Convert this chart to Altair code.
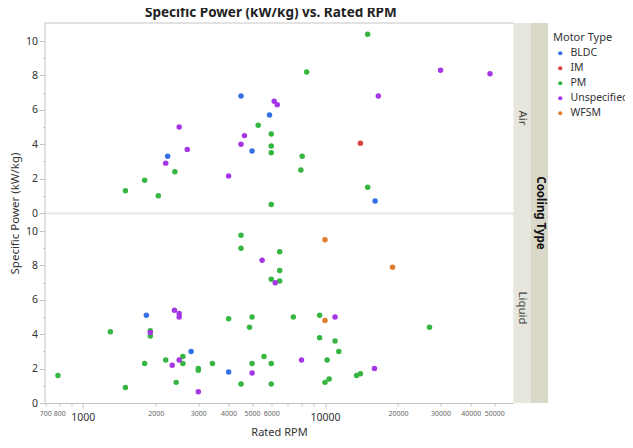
import altair as alt
import pandas as pd

# ---------------- data ----------------
type_order = ["BLDC", "IM", "PM", "Unspecified", "WFSM"]
type_colors = ["#3471e6", "#d94040", "#36b640", "#a436e6", "#e07d2c"]

air_rpm = [1500, 1800, 2050, 2400, 5300, 6000, 6000, 6000, 6000, 8050, 7950, 8400, 15000, 15000,
           2200, 2500, 2700, 4000, 4500, 4650, 6170, 6350, 30000, 48000, 16600,
           2240, 4500, 5000, 5900, 16100, 14000]
air_power = [1.3, 1.9, 1.0, 2.4, 5.1, 4.6, 3.9, 3.5, 0.5, 3.3, 2.5, 8.2, 10.4, 1.5,
             2.9, 5.0, 3.7, 2.15, 4.0, 4.5, 6.5, 6.3, 8.3, 8.1, 6.8,
             3.3, 6.8, 3.6, 5.7, 0.7, 4.05]
air_type = ["PM"] * 14 + ["Unspecified"] * 11 + ["BLDC"] * 5 + ["IM"]

liq_rpm = [790, 1300, 1500, 1800, 1900, 1900, 2200, 2430, 2590, 2590, 3000, 3000, 3430, 4000,
           4500, 4500, 4500, 4880, 5000, 5000, 5600, 6000, 6000, 6000, 6500, 6500, 6500, 7400,
           9500, 9500, 27000, 11000, 11400, 10200, 13500, 14000, 10400, 10000,
           1900, 2340, 2390, 2500, 2500, 2500, 3000, 5000, 5500, 6230, 8000, 11000, 16000,
           1830, 2800, 4000,
           10000, 19000, 10000]
liq_power = [1.6, 4.15, 0.9, 2.3, 4.2, 3.9, 2.5, 1.2, 2.7, 2.3, 2.0, 1.9, 2.3, 4.9,
             9.75, 9.0, 1.1, 4.4, 5.0, 2.3, 2.7, 7.2, 2.3, 1.1, 8.8, 7.7, 7.1, 5.0,
             5.1, 3.8, 4.4, 3.6, 3.0, 2.5, 1.6, 1.7, 1.4, 1.2,
             4.1, 2.2, 5.4, 5.2, 5.0, 2.5, 0.65, 1.75, 8.3, 7.0, 2.5, 5.0, 2.0,
             5.1, 3.0, 1.8,
             9.5, 7.9, 4.8]
liq_type = ["PM"] * 38 + ["Unspecified"] * 13 + ["BLDC"] * 3 + ["WFSM"] * 3

x_ticks = [700, 800, 900, 1000, 2000, 3000, 4000, 5000, 6000, 7000, 8000, 9000,
           10000, 20000, 30000, 40000, 50000]
x_labels = [700, 800, 1000, 2000, 3000, 4000, 5000, 6000, 10000, 20000, 30000, 40000, 50000]
y_ticks = [0, 1, 2, 3, 4, 5, 6, 7, 8, 9, 10]

# ---------------- styling ----------------
FONT = "Noto Sans"
W, H = 469, 190
S1, S2 = 17.5, 17
AXC = "#c4c4c4"
TXT = "#333333"

air = pd.DataFrame({"rpm": air_rpm, "power": air_power, "type": air_type})
liq = pd.DataFrame({"rpm": liq_rpm, "power": liq_power, "type": liq_type})

big_test = "datum.value == 1000 || datum.value == 10000"
label_list = "[" + ",".join(str(v) for v in x_labels) + "]"


def panel(df, label, bottom):
    if bottom:
        xaxis = alt.Axis(
            values=x_ticks, title="Rated RPM", grid=False,
            labelExpr=f"indexof({label_list}, datum.value) >= 0 ? '' + datum.value : ''",
            labelFontSize={"condition": {"test": big_test, "value": 10.5}, "value": 7},
            labelColor={"condition": {"test": big_test, "value": TXT}, "value": "#666666"},
            labelPadding={"condition": {"test": big_test, "value": 4}, "value": 3},
            tickSize={"condition": {"test": big_test, "value": 5}, "value": 3},
            domainColor=AXC, tickColor=AXC, labelFont=FONT, labelFlush=False,
            labelOverlap=False, titleFont=FONT, titleFontSize=11, titleFontWeight="normal",
            titleColor=TXT, titlePadding=4,
        )
    else:
        xaxis = alt.Axis(values=x_ticks, labels=False, ticks=False, title=None, grid=False,
                         domainColor="#e6e6e6", domainWidth=2)
    yaxis_kw = dict(
        values=y_ticks, grid=False,
        labelExpr="datum.value % 2 == 0 ? datum.label : ''",
        tickSize={"condition": {"test": "datum.value % 2 == 0", "value": 5}, "value": 2},
        domainColor=AXC, tickColor=AXC, labelFont=FONT, labelFontSize=10.5, labelColor=TXT,
        labelPadding=2,
    )
    if bottom:
        yaxis = alt.Axis(title=None, **yaxis_kw)
    else:
        yaxis = alt.Axis(title="Specific Power (kW/kg)", titleY=H, titleX=-24.5,
                         titleBaseline="bottom", titleFont=FONT, titleFontSize=11.5,
                         titleFontWeight="normal", titleColor=TXT, **yaxis_kw)

    pts = alt.Chart(df).mark_circle(size=30, opacity=1).encode(
        x=alt.X("rpm:Q", scale=alt.Scale(type="log", domain=[695, 60000], nice=False), axis=xaxis),
        y=alt.Y("power:Q", scale=alt.Scale(domain=[0, 11.05], nice=False, zero=False), axis=yaxis),
        color=alt.Color("type:N", scale=alt.Scale(domain=type_order, range=type_colors),
                        legend=alt.Legend(title="Motor Type", orient="none", legendX=W + S1 + S2 + 5,
                                          legendY=9, titleFont=FONT, titleFontSize=11,
                                          titleFontWeight="normal", titleColor=TXT, labelFont=FONT,
                                          labelFontSize=10.5, labelColor=TXT, symbolSize=18,
                                          symbolOffset=2, labelOffset=5, rowPadding=4,
                                          titlePadding=5, symbolStrokeWidth=0)),
    )
    lab = pd.DataFrame({"t": [label]})
    strip1 = alt.Chart(lab).mark_rect(color="#e6e6dc").encode(
        x=alt.value(W), x2=alt.value(W + S1), y=alt.value(0), y2=alt.value(H))
    strip2 = alt.Chart(lab).mark_rect(color="#d9d8c9").encode(
        x=alt.value(W + S1), x2=alt.value(W + S1 + S2), y=alt.value(0), y2=alt.value(H))
    txt = alt.Chart(lab).mark_text(angle=90, font=FONT, fontSize=11.5, color="#444444").encode(
        x=alt.value(W + S1 / 2), y=alt.value(H / 2), text="t:N")
    layers = [strip1, strip2, txt]
    if not bottom:
        border = alt.Chart(lab).mark_rule(color=AXC).encode(
            x=alt.value(0), x2=alt.value(W), y=alt.value(0))
        layers.append(border)
    else:
        ct = alt.Chart(pd.DataFrame({"t": ["Cooling Type"]})).mark_text(
            angle=90, font=FONT, fontSize=11.5, fontWeight="bold", color="#111111").encode(
            x=alt.value(W + S1 + S2 / 2), y=alt.value(0), text="t:N")
        layers.append(ct)
    layers.append(pts)
    return alt.layer(*layers).properties(width=W, height=H)


chart = alt.vconcat(panel(air, "Air", False), panel(liq, "Liquid", True), spacing=0,
                    bounds="flush").properties(
    title=alt.TitleParams("Specific Power (kW/kg) vs. Rated RPM", font=FONT, fontSize=13.5,
                          fontWeight="bold", color="#222222", anchor="start", offset=3, dx=136),
    autosize=alt.AutoSizeParams(type="none"),
    padding={"left": 36.5, "top": 15, "right": 111, "bottom": 417},
).configure_view(stroke=None).configure_concat(spacing=0)

chart.save("out.html", embed_options={"renderer": "svg", "actions": False})
